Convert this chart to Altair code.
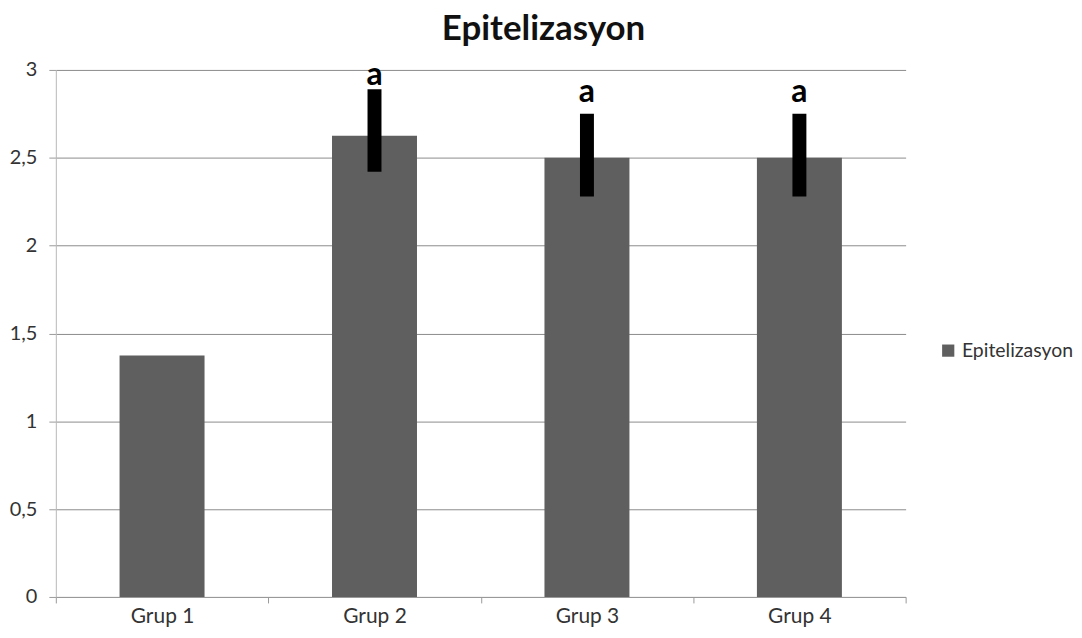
import altair as alt
import pandas as pd

groups = ["Grup 1", "Grup 2", "Grup 3", "Grup 4"]
values = [1.375, 2.625, 2.5, 2.5]
err_low = [None, 2.42, 2.28, 2.28]
err_high = [None, 2.89, 2.75, 2.75]
sig_labels = ["", "a", "a", "a"]
label_y = [None, 2.915, 2.82, 2.82]
series = "Epitelizasyon"
y_ticks = [0, 0.5, 1, 1.5, 2, 2.5, 3]

df = pd.DataFrame({
    "group": groups,
    "value": values,
    "lo": err_low,
    "hi": err_high,
    "sig": sig_labels,
    "ly": label_y,
    "series": [series] * len(groups),
})

FONT = "Lato"
x = alt.X(
    "group:N",
    sort=groups,
    scale=alt.Scale(paddingInner=0, paddingOuter=0),
    axis=alt.Axis(
        title=None, labelAngle=0, labelFontSize=21, labelFont=FONT, labelColor="#333333",
        labelPadding=3, tickBand="extent", tickSize=6, tickColor="#9a9a9a",
        domainColor="#9a9a9a", grid=False,
    ),
)

bars = alt.Chart(df).mark_bar(width=alt.RelativeBandSize(0.4)).encode(
    x=x,
    y=alt.Y(
        "value:Q",
        scale=alt.Scale(domain=[0, 3], nice=False),
        axis=alt.Axis(
            title=None, values=y_ticks, format=".1~f",
            labelExpr="replace(datum.label, '.', ',')",
            labelFontSize=20, labelFont=FONT, labelColor="#333333",
            tickSize=7, tickColor="#9a9a9a", domainColor="#b8b8b8",
            gridColor="#8c8c8c", labelPadding=12,
        ),
    ),
    color=alt.Color(
        "series:N",
        scale=alt.Scale(range=["#5f5f5f"]),
        legend=alt.Legend(
            title=None, orient="none", legendX=886, legendY=272,
            symbolType="square", symbolSize=150, symbolStrokeWidth=0,
            labelFontSize=19.5, labelFont=FONT, labelColor="#333333",
        ),
    ),
)

errs = alt.Chart(df).transform_filter("datum.lo != null").mark_rule(
    color="black", strokeWidth=14, strokeCap="butt"
).encode(x=alt.X("group:N", sort=groups), y="lo:Q", y2="hi:Q")

sig = alt.Chart(df).transform_filter("datum.ly != null").mark_text(
    font=FONT, fontSize=32, fontWeight="bold", color="black", baseline="alphabetic"
).encode(x=alt.X("group:N", sort=groups), y="ly:Q", text="sig:N")

chart = alt.layer(bars, errs, sig).properties(
    width=853, height=529,
    title=alt.TitleParams(
        "Epitelizasyon", font=FONT, fontSize=35, fontWeight="bold",
        color="#111111", dx=63, offset=12,
    ),
    padding={"left": 1, "top": 2, "right": 0, "bottom": 0},
).configure_view(stroke=None)

chart.save("out.html", embed_options={"renderer": "svg", "actions": False})
